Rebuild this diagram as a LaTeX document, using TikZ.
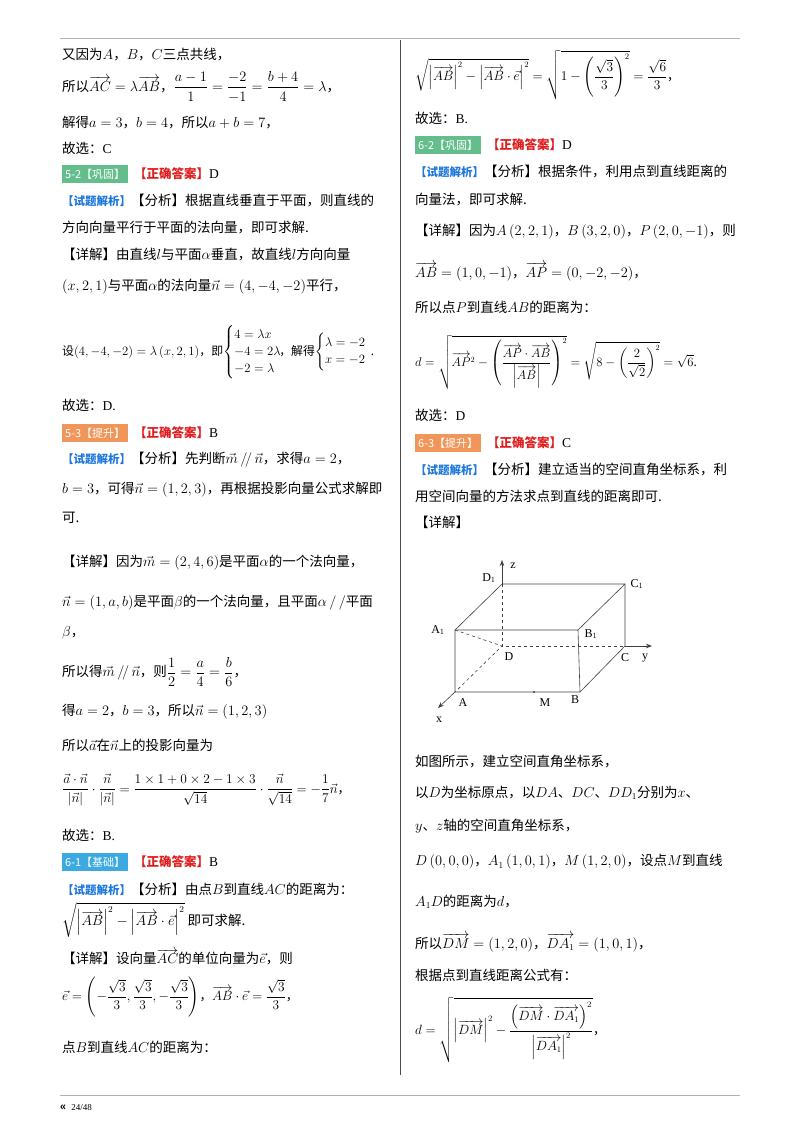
\documentclass[tikz,border=0pt]{standalone}
\usepackage{amsmath}
\usepackage{fontspec}
\setmainfont{Noto Sans CJK SC}
\newfontfamily\lser{Liberation Serif}
\usetikzlibrary{arrows.meta}
\definecolor{gbox}{RGB}{100,190,140}
\definecolor{obox}{RGB}{240,150,90}
\definecolor{bbox}{RGB}{60,170,225}
\definecolor{ared}{RGB}{225,30,30}
\definecolor{ablue}{RGB}{30,120,220}
\newcommand{\ov}[1]{\overrightarrow{#1}}
\begin{document}
\begin{tikzpicture}[x=1pt,y=-1pt,
 t/.style={anchor=west,inner sep=0pt,font=\fontsize{13.5}{16}\selectfont},
 ts/.style={t,scale=0.93},
 tss/.style={t,scale=0.88},
 tag/.style={anchor=west,inner sep=0pt,minimum height=18pt,text=white,font=\fontsize{11}{12}\selectfont,fill=#1,inner xsep=3pt},
 lab/.style={inner sep=0pt,font=\lser\fontsize{12}{12}\selectfont},
 ed/.style={line width=0.6pt,black!75},
 da/.style={ed,dashed}]
\useasboundingbox (0,0) rectangle (800,1132);
\newcommand{\ans}[1]{{\color{ared}\bfseries\fontsize{12.5}{14}\selectfont 【正确答案】}{\lser #1}}
\newcommand{\jx}{{\color{ablue}\bfseries\fontsize{11.5}{14}\selectfont 【试题解析】}}
\draw[gray!60,line width=0.5pt] (60,38) coordinate (tl) -- (740,38) coordinate (tr);
\draw[black!70,line width=0.8pt] (400,40) coordinate (vt) -- (400,1075) coordinate (vb);
\draw[gray!60,line width=0.5pt] (60,1095) coordinate (bl) -- (740,1095) coordinate (br);
\node[anchor=west,inner sep=0pt,font=\fontsize{11}{12}\selectfont] (foot) at (60,1108) {\textbf{«}\ \ {\lser\fontsize{9}{10}\selectfont 24/48}};
% left column
\node[t] (l1) at (62,55) {又因为$A$，$B$，$C$三点共线，};
\node[t] (l2) at (62,87) {所以$\ov{AC}=\lambda\ov{AB}$，$\dfrac{a-1}{1}=\dfrac{-2}{-1}=\dfrac{b+4}{4}=\lambda$，};
\node[t] (l3) at (62,123) {解得$a=3$，$b=4$，所以$a+b=7$，};
\node[t] (l4) at (62,148) {故选：{\lser C}};
\node[tag=gbox] (g1) at (62,174) {5-2【巩固】};
\node[t] (a1) at (134,174) {\ans{D}};
\node[t] (l5) at (62,201) {\jx【分析】根据直线垂直于平面，则直线的};
\node[t] (l6) at (62,228) {方向向量平行于平面的法向量，即可求解.};
\node[t] (l7) at (62,255) {【详解】由直线$l$与平面$\alpha$垂直，故直线$l$方向向量};
\node[t] (l8) at (62,287) {$\left(x,2,1\right)$与平面$\alpha$的法向量$\vec n=\left(4,-4,-2\right)$平行，};
\node[tss] (l9) at (62,352) {设$\left(4,-4,-2\right)=\lambda\left(x,2,1\right)$，即$\begin{cases}4=\lambda x\\-4=2\lambda\\-2=\lambda\end{cases}$\hspace{-1.2em}，解得$\begin{cases}\lambda=-2\\x=-2\end{cases}$\hspace{-0.6em}.};
\node[t] (l10) at (62,405) {故选：{\lser D.}};
\node[tag=obox] (o1) at (62,433) {5-3【提升】};
\node[t] (a2) at (134,433) {\ans{B}};
\node[t] (l11) at (62,460) {\jx【分析】先判断$\vec m\,/\!/\,\vec n$，求得$a=2$，};
\node[t] (l12) at (62,490) {$b=3$，可得$\vec n=\left(1,2,3\right)$，再根据投影向量公式求解即};
\node[t] (l13) at (62,518) {可.};
\node[t] (l14) at (62,563) {【详解】因为$\vec m=\left(2,4,6\right)$是平面$\alpha$的一个法向量，};
\node[t] (l15) at (62,603) {$\vec n=\left(1,a,b\right)$是平面$\beta$的一个法向量，且平面$\alpha\,/\,/$平面};
\node[t] (l16) at (62,633) {$\beta$，};
\node[t] (l17) at (62,672) {所以得$\vec m\,/\!/\,\vec n$，则$\dfrac12=\dfrac a4=\dfrac b6$，};
\node[t] (l18) at (62,712) {得$a=2$，$b=3$，所以$\vec n=\left(1,2,3\right)$};
\node[t] (l19) at (62,745) {所以$\vec a$在$\vec n$上的投影向量为};
\node[ts] (l20) at (62,790) {$\dfrac{\vec a\cdot\vec n}{\left|\vec n\right|}\cdot\dfrac{\vec n}{\left|\vec n\right|}=\dfrac{1\times1+0\times2-1\times3}{\sqrt{14}}\cdot\dfrac{\vec n}{\sqrt{14}}=-\dfrac17\vec n$，};
\node[t] (l21) at (62,835) {故选：{\lser B.}};
\node[tag=bbox] (b1) at (62,862) {6-1【基础】};
\node[t] (a3) at (134,862) {\ans{B}};
\node[t] (l22) at (62,889) {\jx【分析】由点$B$到直线$AC$的距离为：};
\node[t] (l23) at (62,920) {$\sqrt{\left|\ov{AB}\right|^2-\left|\ov{AB}\cdot\vec e\right|^2}$ 即可求解.};
\node[t] (l24) at (62,957) {【详解】设向量$\ov{AC}$的单位向量为$\vec e$，则};
\node[ts] (l25) at (62,997) {$\vec e=\left(-\dfrac{\sqrt3}{3},\dfrac{\sqrt3}{3},-\dfrac{\sqrt3}{3}\right)$，$\ov{AB}\cdot\vec e=\dfrac{\sqrt3}{3}$，};
\node[t] (l26) at (62,1047) {点$B$到直线$AC$的距离为：};
% right column
\node[ts] (r1) at (415,75) {$\sqrt{\left|\ov{AB}\right|^2-\left|\ov{AB}\cdot\vec e\right|^2}=\sqrt{1-\left(\dfrac{\sqrt3}{3}\right)^2}=\dfrac{\sqrt6}{3}$，};
\node[t] (r2) at (415,118) {故选：{\lser B.}};
\node[tag=gbox] (g2) at (415,145) {6-2【巩固】};
\node[t] (a4) at (487,145) {\ans{D}};
\node[t] (r3) at (415,172) {\jx【分析】根据条件，利用点到直线距离的};
\node[t] (r4) at (415,200) {向量法，即可求解.};
\node[t] (r5) at (415,232) {【详解】因为$A\left(2,2,1\right)$，$B\left(3,2,0\right)$，$P\left(2,0,-1\right)$，则};
\node[t] (r6) at (415,272) {$\ov{AB}=\left(1,0,-1\right)$，$\ov{AP}=\left(0,-2,-2\right)$，};
\node[t] (r7) at (415,307) {所以点$P$到直线$AB$的距离为：};
\node[tss] (r8) at (415,362) {$d=\sqrt{\ov{AP}^2-\left(\dfrac{\ov{AP}\cdot\ov{AB}}{\left|\ov{AB}\right|}\right)^2}=\sqrt{8-\left(\dfrac{2}{\sqrt2}\right)^2}=\sqrt6$.};
\node[t] (r9) at (415,415) {故选：{\lser D}};
\node[tag=obox] (o2) at (415,443) {6-3【提升】};
\node[t] (a5) at (487,443) {\ans{C}};
\node[t] (r10) at (415,470) {\jx【分析】建立适当的空间直角坐标系，利};
\node[t] (r11) at (415,496) {用空间向量的方法求点到直线的距离即可.};
\node[t] (r12) at (415,522) {【详解】};
% cube
\coordinate (A) at (455,692); \coordinate (B) at (580,692);
\coordinate (A1) at (455,630); \coordinate (B1) at (578,630);
\coordinate (D) at (502,646); \coordinate (C) at (625,646);
\coordinate (D1) at (502,584); \coordinate (C1) at (625,584);
\coordinate (M) at (534,692);
\coordinate (zt) at (502,560); \coordinate (yt) at (652,646); \coordinate (xt) at (438,708);
\draw[ed] (A) -- (B) -- (B1) -- (A1) -- cycle;
\draw[ed] (A1) -- (D1) -- (C1) -- (B1);
\draw[ed] (C1) -- (C) -- (B);
\draw[da] (D1) -- (D) -- (C);
\draw[da] (A1) -- (D) -- (A);
\draw[ed,-{Stealth[length=6pt]}] (D1) -- (zt);
\draw[ed,-{Stealth[length=6pt]}] (C) -- (yt);
\draw[ed,-{Stealth[length=6pt]}] (A) -- (xt);
\fill (M) circle (0.8pt);
\node[lab] (lD1) at (489,578) {D$_1$};
\node[lab] (lz) at (513,566) {z};
\node[lab] (lC1) at (637,584) {C$_1$};
\node[lab] (lA1) at (438,630) {A$_1$};
\node[lab] (lB1) at (591,634) {B$_1$};
\node[lab] (lD) at (509,657) {D};
\node[lab] (lC) at (625,658) {C};
\node[lab] (ly) at (645,658) {y};
\node[lab] (lA) at (463,703) {A};
\node[lab] (lM) at (545,703) {M};
\node[lab] (lB) at (575,700) {B};
\node[lab] (lx) at (439,720) {x};
\node[t] (r13) at (415,762) {如图所示，建立空间直角坐标系，};
\node[t] (r14) at (415,793) {以$D$为坐标原点，以$DA$、$DC$、$DD_1$分别为$x$、};
\node[t] (r15) at (415,826) {$y$、$z$轴的空间直角坐标系，};
\node[t] (r16) at (415,862) {$D\left(0,0,0\right)$，$A_1\left(1,0,1\right)$，$M\left(1,2,0\right)$，设点$M$到直线};
\node[t] (r17) at (415,902) {$A_1D$的距离为$d$，};
\node[t] (r18) at (415,943) {所以$\ov{DM}=\left(1,2,0\right)$，$\ov{DA_1}=\left(1,0,1\right)$，};
\node[t] (r19) at (415,975) {根据点到直线距离公式有：};
\node[ts] (r20) at (415,1030) {$d=\sqrt{\left|\ov{DM}\right|^2-\dfrac{\left(\ov{DM}\cdot\ov{DA_1}\right)^2}{\left|\ov{DA_1}\right|^2}}$，};
\end{tikzpicture}
\end{document}
